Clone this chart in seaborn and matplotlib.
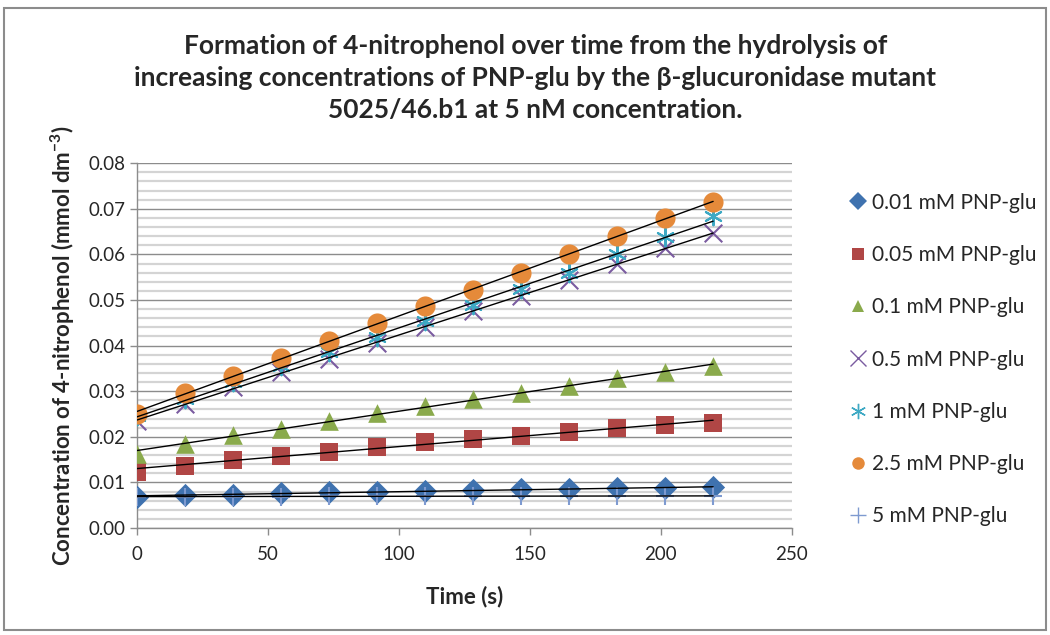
"""Recreates the 4-nitrophenol formation chart (Excel-style scatter with linear trend lines)."""
import matplotlib
matplotlib.use("Agg")
import matplotlib.pyplot as plt
import numpy as np
import pandas as pd
import seaborn as sns
from matplotlib.lines import Line2D
from matplotlib.patches import Rectangle
from matplotlib.ticker import MultipleLocator, FormatStrFormatter

# Time points (s)
time_s = [0, 18.3, 36.7, 55, 73.3, 91.7, 110, 128.3, 146.7, 165, 183.3, 201.7, 220]

# 4-nitrophenol concentration (mmol dm-3) per PNP-glu concentration
conc_001 = [0.0068, 0.0072, 0.0073, 0.0077, 0.0079, 0.0080, 0.0081, 0.0083, 0.0085, 0.0085, 0.0087, 0.0088, 0.0089]
conc_005 = [0.0123, 0.0137, 0.0150, 0.0158, 0.0167, 0.0178, 0.0188, 0.0195, 0.0202, 0.0211, 0.0220, 0.0225, 0.0230]
conc_01 = [0.0163, 0.0185, 0.0203, 0.0218, 0.0235, 0.0252, 0.0268, 0.0283, 0.0297, 0.0312, 0.0328, 0.0342, 0.0355]
conc_05 = [0.0235, 0.0272, 0.0310, 0.0343, 0.0370, 0.0405, 0.0440, 0.0475, 0.0508, 0.0543, 0.0580, 0.0615, 0.0648]
conc_1 = [0.0245, 0.0282, 0.0320, 0.0355, 0.0385, 0.0418, 0.0455, 0.0490, 0.0525, 0.0560, 0.0600, 0.0638, 0.0685]
conc_25 = [0.0250, 0.0297, 0.0333, 0.0373, 0.0410, 0.0450, 0.0487, 0.0522, 0.0560, 0.0600, 0.0640, 0.0680, 0.0715]
conc_5 = [0.0068, 0.0069, 0.0069, 0.0069, 0.0070, 0.0070, 0.0070, 0.0070, 0.0070, 0.0070, 0.0070, 0.0070, 0.0070]

series_labels = ["0.01 mM PNP-glu", "0.05 mM PNP-glu", "0.1 mM PNP-glu", "0.5 mM PNP-glu",
                 "1 mM PNP-glu", "2.5 mM PNP-glu", "5 mM PNP-glu"]
series_values = [conc_001, conc_005, conc_01, conc_05, conc_1, conc_25, conc_5]

# Marker styles mimicking Excel 2007 defaults
styles = [
    dict(marker="D", color="#3F72AF", s=140, linewidth=0),
    dict(marker="s", color="#B04645", s=160, linewidth=0),
    dict(marker="^", color="#8AAA4C", s=180, linewidth=0),
    dict(marker="x", color="#7A5BA0", s=160, linewidth=1.5),
    dict(marker=(6, 2, 0), color="#3EA9C4", s=160, linewidth=1.5),
    dict(marker="o", color="#E58A3A", s=210, linewidth=0),
    dict(marker="+", color="#7E9AD0", s=160, linewidth=1.5),
]

sns.set_style("white")
plt.rcParams["font.family"] = ["Lato", "DejaVu Sans"]

fig = plt.figure(figsize=(10.5, 6.35), dpi=100)
ax = fig.add_axes([0.1305, 0.1685, 0.6235, 0.5745])

# Grid lines drawn first, behind everything
ax.yaxis.set_major_locator(MultipleLocator(0.01))
ax.yaxis.set_minor_locator(MultipleLocator(0.002))
ax.yaxis.set_major_formatter(FormatStrFormatter("%.2f"))
ax.xaxis.set_major_locator(MultipleLocator(50))
ax.grid(True, axis="y", which="major", color="#8C8C8C", linewidth=1.0)
ax.grid(True, axis="y", which="minor", color="#D4D4D4", linewidth=1.6)
ax.set_axisbelow(True)

for label, values, style in zip(series_labels, series_values, styles):
    df = pd.DataFrame({"time": time_s, "conc": values})
    sns.scatterplot(data=df, x="time", y="conc", ax=ax, zorder=3, **style)
    # Linear trend line
    sns.regplot(data=df, x="time", y="conc", ax=ax, scatter=False, ci=None,
                truncate=True, line_kws=dict(color="black", linewidth=1.0, zorder=4))

ax.set_xlim(0, 250)
ax.set_ylim(0, 0.08)
ax.set_xlabel("Time (s)", fontsize=16, fontweight="bold", labelpad=16)
ax.set_ylabel("Concentration of 4-nitrophenol (mmol dm$^{\\mathregular{-3}}$)",
              fontsize=16, fontweight="bold", labelpad=8)
ax.tick_params(axis="both", which="major", labelsize=13.5, length=5, width=1,
               color="#8C8C8C", direction="out", left=True, bottom=True)
ax.tick_params(axis="x", which="major", pad=8)
ax.tick_params(axis="y", which="minor", left=False)

for side in ["top", "right"]:
    ax.spines[side].set_visible(False)
for side in ["left", "bottom"]:
    ax.spines[side].set_color("#8C8C8C")
    ax.spines[side].set_linewidth(1.0)

fig.suptitle("Formation of 4-nitrophenol over time from the hydrolysis of\n"
             "increasing concentrations of PNP-glu by the \u03b2-glucuronidase mutant\n"
             "5025/46.b1 at 5 nM concentration.",
             x=0.51, y=0.947, fontsize=19, fontweight="bold", linespacing=1.42)

# Legend with small markers
handles = []
for label, style in zip(series_labels, styles):
    filled = style["linewidth"] == 0
    handles.append(Line2D([], [], linestyle="none", marker=style["marker"],
                          color=style["color"], markersize=9 if filled else 11,
                          markeredgewidth=0 if filled else 1.0, label=label))
fig.legend(handles=handles, loc="upper left", bbox_to_anchor=(0.797, 0.713),
           frameon=False, fontsize=15, labelspacing=1.55, handletextpad=0.2,
           handlelength=1.0, borderpad=0)

# Outer chart frame
fig.patches.append(Rectangle((0.004, 0.008), 0.992, 0.98, transform=fig.transFigure,
                             fill=False, edgecolor="#8C8C8C", linewidth=1.5))

fig.savefig("out.png", dpi=100)
